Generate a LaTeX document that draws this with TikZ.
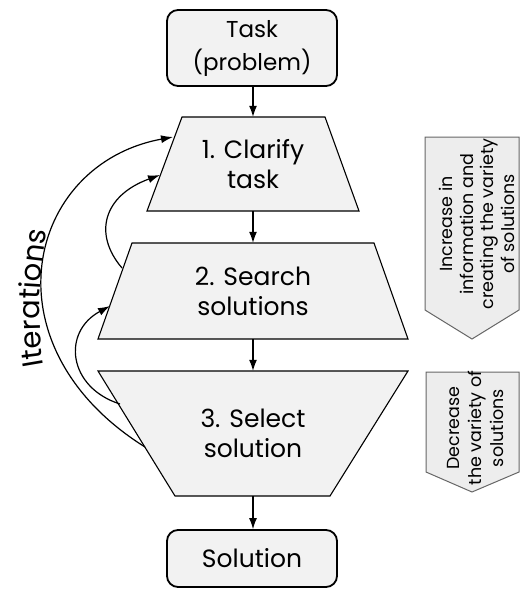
\documentclass[tikz,border=0pt]{standalone}
\usepackage{fontspec}
\setmainfont{Poppins}
\usetikzlibrary{arrows.meta,decorations.text}

\begin{document}
\begin{tikzpicture}[x=1pt,y=-1pt,
  stage/.style={fill=black!5, draw=black, line width=1.1pt, line join=miter},
  endbox/.style={fill=black!5, draw=black, line width=1.8pt, rounded corners=11pt,
    minimum width=170pt, inner sep=0pt, align=center},
  label/.style={font=\fontsize{25}{30}\selectfont, align=center, inner sep=0pt},
  flow/.style={-{Latex[length=11pt,width=8pt]}, line width=1.1pt},
  loop/.style={-{Latex[length=12pt,width=8pt]}, line width=1.2pt},
  hint/.style={fill=black!7, draw=black!60, line width=1pt},
  hinttext/.style={align=center, rotate=90, inner sep=0pt},
]
\useasboundingbox (0,0) rectangle (520,589);

% the three stages of the process
\path[stage] (182,117) -- (325,117) -- (359,211) -- (147,211) -- cycle;
\path[stage] (132,243) -- (374,243) -- (408,339) -- (98,339) -- cycle;
\path[stage] (98,371) -- (408,371) -- (330,496) -- (175,496) -- cycle;

\node[label, minimum height=94pt] (s1) at (253,164) {1. Clarify\\task};
\node[label, minimum height=96pt] (s2) at (253,291) {2. Search\\solutions};
\node[label, minimum height=125pt] (s3) at (253,433.5) {3. Select\\solution};

% start and end of the process
\node[endbox, minimum height=76pt, font=\fontsize{23}{33}\selectfont] (task) at (252,48) {Task\\(problem)};
\node[endbox, minimum height=57pt, font=\fontsize{25}{30}\selectfont] (sol) at (252,558.5) {Solution};

\draw[flow] (task.south -| s1.north) -- (s1.north);
\draw[flow] (s1.south) -- (s2.north);
\draw[flow] (s2.south) -- (s3.north);
\draw[flow] (s3.south) -- (sol.north -| s3.south);

% feedback loops on the left
\coordinate (bigfrom) at (145,447);
\coordinate (bigto) at (173,137);
\coordinate (afrom) at (122,268);
\coordinate (ato) at (160,175);
\coordinate (bfrom) at (120,404);
\coordinate (bto) at (110,306);

\draw[loop] (bigfrom) .. controls (-16.5,346) and (26,164) .. (bigto);
\draw[loop] (afrom) .. controls (92.75,233.8) and (103.6,195.4) .. (ato);
\draw[loop] (bfrom) .. controls (68,387.5) and (61.6,332) .. (bto);

% label bent along the outer loop
\coordinate (iterfrom) at (48,382);
\coordinate (iterto) at (50,214);
\path[decorate, decoration={text along path, text align=center,
    text={|\fontsize{29}{35}\selectfont|Iterations}}]
  (iterfrom) .. controls (34,340) and (40,262) .. (iterto);

% side notes
\path[hint] (425,137) -- (519,137) -- (519,310) -- (472,339) -- (425,310) -- cycle;
\path[hint] (426,372) -- (519,372) -- (519,472) -- (472,492) -- (426,472) -- cycle;
\node[hinttext, font=\fontsize{17.5}{20.5}\selectfont] (more) at (477,224)
  {Increase in\\information and\\creating the variety\\of solutions};
\node[hinttext, font=\fontsize{17.5}{22}\selectfont] (less) at (475,428)
  {Decrease\\the variety of\\solutions};
\end{tikzpicture}
\end{document}
